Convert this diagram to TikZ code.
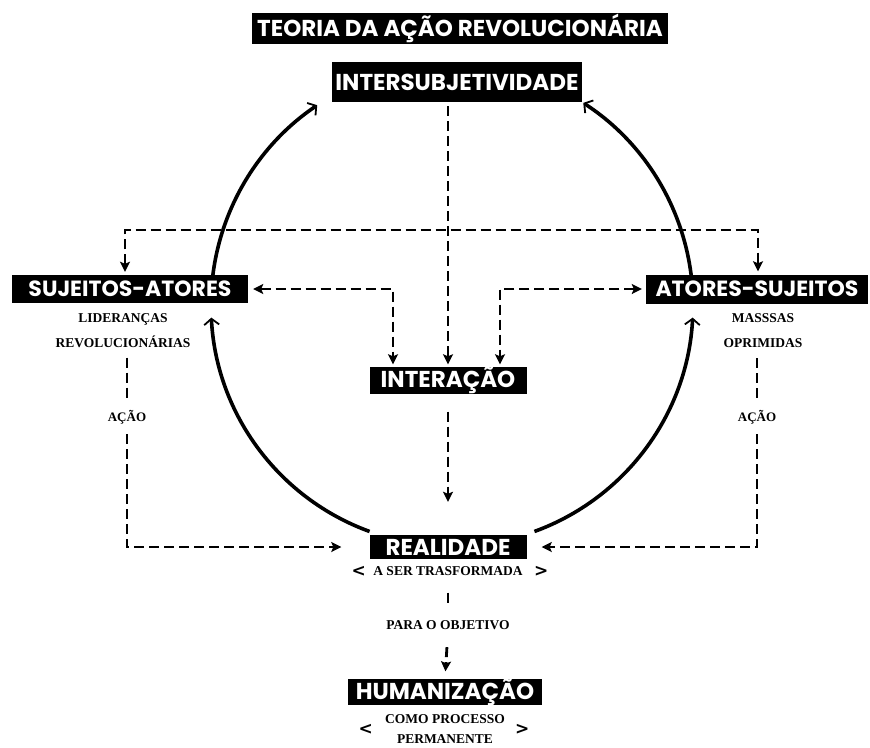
\documentclass[tikz,border=0pt]{standalone}
\usepackage{fontspec}
\setsansfont{Poppins}
\setmainfont{Liberation Serif}
\newfontfamily\chevfont{DejaVu Sans}
\usetikzlibrary{arrows,arrows.meta,positioning}

\begin{document}
\begin{tikzpicture}[x=1pt,y=-1pt,>={Stealth[length=10pt,width=10pt,inset=2pt]},
  box node/.style={fill=black,text=white,inner sep=0pt,minimum height=28pt,
    font=\sffamily\bfseries\fontsize{#1}{#1}\selectfont},
  box node/.default=23,
  sub node/.style={align=center,inner sep=0pt,font=\rmfamily\bfseries\fontsize{13.5}{25}\selectfont},
  chev node/.style={inner sep=0pt,font=\chevfont\bfseries\fontsize{17}{17}\selectfont},
  dash edge/.style={line width=2.8pt,dash pattern=on 10pt off 5pt},
  arc edge/.style={line width=3.6pt,-{Straight Barb[length=6pt,width=15pt,line width=1.8pt]}}]
  \useasboundingbox[fill=white] (0,0) rectangle (870,747);
  \coordinate (c) at (452,305);

  % the circle, in four arcs
  \draw[arc edge] ([shift={(110:241)}]c) arc[start angle=110,end angle=177,radius=241];
  \draw[arc edge] ([shift={(187:241)}]c) arc[start angle=187,end angle=236,radius=241];
  \draw[arc edge] ([shift={(70:241)}]c) arc[start angle=70,end angle=3,radius=241];
  \draw[arc edge] ([shift={(-7:241)}]c) arc[start angle=-7,end angle=-57,radius=241];

  \node[box node,minimum width=416pt,minimum height=31pt] (title) at (460,28) {TEORIA DA AÇÃO REVOLUCIONÁRIA};
  \node[box node,minimum width=250pt,minimum height=40pt] (inter) at (457,82) {INTERSUBJETIVIDADE};
  \node[box node=22,minimum width=236pt] (sujeitos) at (130,289) {SUJEITOS-ATORES};
  \node[box node=22,minimum width=222pt,minimum height=29pt] (atores) at (757,289) {ATORES-SUJEITOS};
  \node[box node,minimum width=157pt,minimum height=27pt] (interacao) at (448,380) {INTERAÇÃO};
  \node[box node,minimum width=157pt,minimum height=24pt] (realidade) at (448,547) {REALIDADE};
  \node[box node,minimum width=194pt,minimum height=26pt] (humanizacao) at (445,692) {HUMANIZAÇÃO};

  \node[sub node,below=10pt of sujeitos,xshift=-7pt] (lider) {LIDERANÇAS\\REVOLUCIONÁRIAS};
  \node[sub node,below=10pt of atores,xshift=6pt] (massas) {MASSSAS\\OPRIMIDAS};
  \node[sub node,font=\rmfamily\bfseries\fontsize{13}{13}\selectfont] (acaol) at (127,417) {AÇÃO};
  \node[sub node,font=\rmfamily\bfseries\fontsize{13}{13}\selectfont] (acaor) at (757,417) {AÇÃO};
  \node[sub node,below=7pt of realidade] (sertrans) {A SER TRASFORMADA};
  \node[chev node,left=7pt of sertrans] (sertransl) {<};
  \node[chev node,right=11pt of sertrans] (sertransr) {>};
  \node[sub node,below=45pt of sertrans] (objetivo) {PARA O OBJETIVO};
  \node[sub node,font=\rmfamily\bfseries\fontsize{13.5}{20}\selectfont,below=9pt of humanizacao] (humsub) {COMO PROCESSO\\PERMANENTE};
  \node[chev node,left=12pt of humsub] (humsubl) {<};
  \node[chev node,right=10pt of humsub] (humsubr) {>};

  % dashed links
  \draw[dash edge,->,shorten <=4pt,shorten >=2pt] (inter.south -| interacao) -- (interacao.north);
  \draw[dash edge,<->,shorten <=3pt,shorten >=3pt] ([xshift=-5pt]sujeitos.north) |- (450,230) -| ([xshift=1pt]atores.north);
  \draw[dash edge,<->,shorten <=5pt,shorten >=2pt] (sujeitos.east) -| ([xshift=-55pt]interacao.north);
  \draw[dash edge,<->,shorten <=4pt,shorten >=2pt] (atores.west) -| ([xshift=52pt]interacao.north);
  \draw[dash edge,->,shorten <=18pt,shorten >=33pt] (interacao.south) -- (realidade.north);
  \draw[dash edge,shorten <=10pt,shorten >=10pt] (lider.south -| acaol.north) -- (acaol.north);
  \draw[dash edge,shorten <=10pt,shorten >=10pt] (massas.south -| acaor.north) -- (acaor.north);
  \draw[dash edge,->,shorten <=10pt,shorten >=28pt] (acaol.south) |- (realidade.west);
  \draw[dash edge,->,shorten <=10pt,shorten >=15pt] (acaor.south) |- (realidade.east);
  \draw[dash edge,shorten <=17pt,shorten >=15pt] (sertrans.south -| objetivo) -- (objetivo.north);
  \draw[dash edge,->,shorten <=17pt,shorten >=7pt] (objetivo.south) -- (humanizacao.north);
\end{tikzpicture}
\end{document}
